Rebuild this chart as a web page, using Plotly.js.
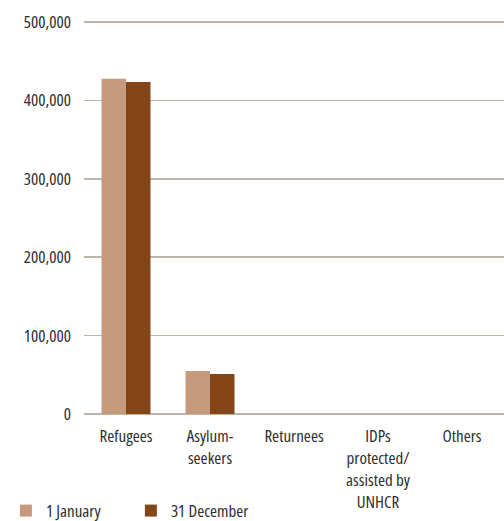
<!DOCTYPE html>
<html>
<head>
<meta charset="utf-8">
<script src="https://cdn.plot.ly/plotly-3.0.1.min.js"></script>
<style>
html,body{margin:0;padding:0;background:#fff;}
#chart{width:504px;height:521px;}
#chart text{font-stretch:condensed;}
</style>
</head>
<body>
<div id="chart"></div>
<script>
const categories = ["Refugees", "Asylum-<br>seekers", "Returnees", "IDPs<br>protected/<br>assisted by<br>UNHCR", "Others"];
const seriesNames = ["1 January", "31 December"];
const jan = [427500, 54800, 0, 0, 0];
const dec = [423500, 51000, 0, 0, 0];
const yTicks = [0, 100000, 200000, 300000, 400000, 500000];
const yTickLabels = ["0", "100,000", "200,000", "300,000", "400,000", "500,000"];

const FONT = '"Open Sans", sans-serif';

const traces = [
  {type: 'bar', name: seriesNames[0], x: categories, y: jan, marker: {color: '#C69A7C'}, hoverinfo: 'none'},
  {type: 'bar', name: seriesNames[1], x: categories, y: dec, marker: {color: '#844619'}, hoverinfo: 'none'}
];

const layout = {
  width: 504, height: 521,
  margin: {l: 84, r: 0, t: 20, b: 105, autoexpand: false},
  paper_bgcolor: '#fff', plot_bgcolor: '#fff',
  barmode: 'group', bargap: 0.417, bargroupgap: 0,
  font: {family: FONT, size: 17, color: '#2e2e2e'},
  showlegend: true,
  legend: {orientation: 'h', x: -0.186, xanchor: 'left', y: -0.24, yanchor: 'middle',
           font: {family: FONT, size: 17, color: '#2e2e2e'}, entrywidth: 80, itemwidth: 30,
           bgcolor: 'rgba(0,0,0,0)'},
  xaxis: {type: 'category', showgrid: false, zeroline: false, showline: false, ticks: '',
          tickangle: 0, ticklabelstandoff: 8, automargin: false,
          tickfont: {family: FONT, size: 17, color: '#2e2e2e'}, fixedrange: true},
  yaxis: {range: [-2500, 502500], tickvals: yTicks, ticktext: yTickLabels, showgrid: true,
          gridcolor: '#BDB5A8', gridwidth: 1.5, zeroline: false, showline: false, ticks: '',
          automargin: false,
          ticklabelstandoff: 12, tickfont: {family: FONT, size: 17, color: '#2e2e2e'}, fixedrange: true}
};

Plotly.newPlot('chart', traces, layout, {displayModeBar: false, staticPlot: true});
</script>
</body>
</html>
